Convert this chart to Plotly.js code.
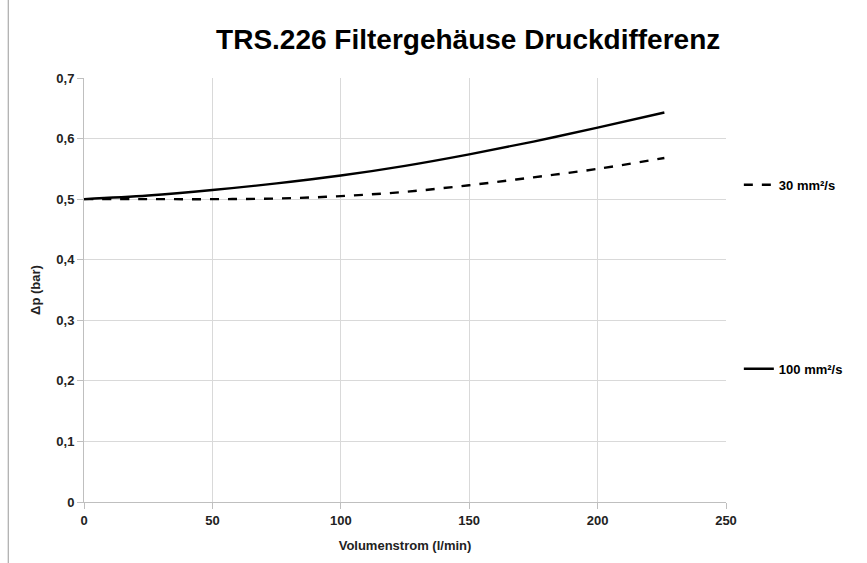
<!DOCTYPE html>
<html>
<head>
<meta charset="utf-8">
<script src="https://cdn.plot.ly/plotly-3.0.1.min.js"></script>
<style>html,body{margin:0;padding:0;background:#fff;}#chart{width:867px;height:563px;}</style>
</head>
<body>
<div id="chart"></div>
<script>
const flow = [0, 25, 50, 75, 100, 125, 150, 175, 200, 226];
const dp30 = [0.500, 0.500, 0.500, 0.501, 0.505, 0.512, 0.523, 0.536, 0.550, 0.568];
const dp100 = [0.500, 0.506, 0.515, 0.526, 0.539, 0.555, 0.574, 0.595, 0.618, 0.643];
const seriesNames = ["30 mm²/s", "100 mm²/s"];

const FONT = "Liberation Sans, Arial, sans-serif";
const traces = [
  {x: flow, y: dp30, name: seriesNames[0], mode: "lines", line: {color: "#000", width: 2.4, dash: "dash", shape: "spline"}, legend: "legend"},
  {x: flow, y: dp100, name: seriesNames[1], mode: "lines", line: {color: "#000", width: 2.4, shape: "spline"}, legend: "legend2"}
];

const axisCommon = {
  showgrid: true, gridcolor: "#d9d9d9", gridwidth: 1,
  showline: true, linecolor: "#bfbfbf", linewidth: 1,
  ticks: "outside", ticklen: 6, tickcolor: "#bfbfbf",
  tickfont: {family: FONT, size: 13, color: "#222", weight: "bold"},
  zeroline: false, fixedrange: true
};

const layout = {
  width: 867, height: 563,
  margin: {l: 84, r: 141, t: 78, b: 61},
  paper_bgcolor: "#fff", plot_bgcolor: "#fff",
  separators: ",.",
  title: {text: "<b>TRS.226 Filtergehäuse Druckdifferenz</b>", font: {family: FONT, size: 28, color: "#000"}, x: 0.54, xanchor: "center", y: 0.93, yanchor: "middle"},
  xaxis: Object.assign({}, axisCommon, {range: [0, 250], dtick: 50, tick0: 0, mirror: false,
    title: {text: "<b>Volumenstrom (l/min)</b>", font: {family: FONT, size: 13, color: "#222"}, standoff: 14}}),
  yaxis: Object.assign({}, axisCommon, {range: [0, 0.7], dtick: 0.1, tick0: 0,
    title: {text: "<b>Δp (bar)</b>", font: {family: FONT, size: 13, color: "#222"}, standoff: 12}}),
  showlegend: true,
  legend: {x: 1.02, xanchor: "left", y: 0.748, yanchor: "middle", bgcolor: "rgba(0,0,0,0)", font: {family: FONT, size: 13, color: "#000", weight: "bold"}, itemwidth: 30},
  legend2: {x: 1.02, xanchor: "left", y: 0.314, yanchor: "middle", bgcolor: "rgba(0,0,0,0)", font: {family: FONT, size: 13, color: "#000", weight: "bold"}, itemwidth: 30},
  shapes: [
    {type: "line", xref: "paper", yref: "paper", x0: -0.118, x1: -0.118, y0: -0.15, y1: 1.19, line: {color: "#9a9a9a", width: 1}}
  ]
};

Plotly.newPlot("chart", traces, layout, {displayModeBar: false, staticPlot: true});
</script>
</body>
</html>
